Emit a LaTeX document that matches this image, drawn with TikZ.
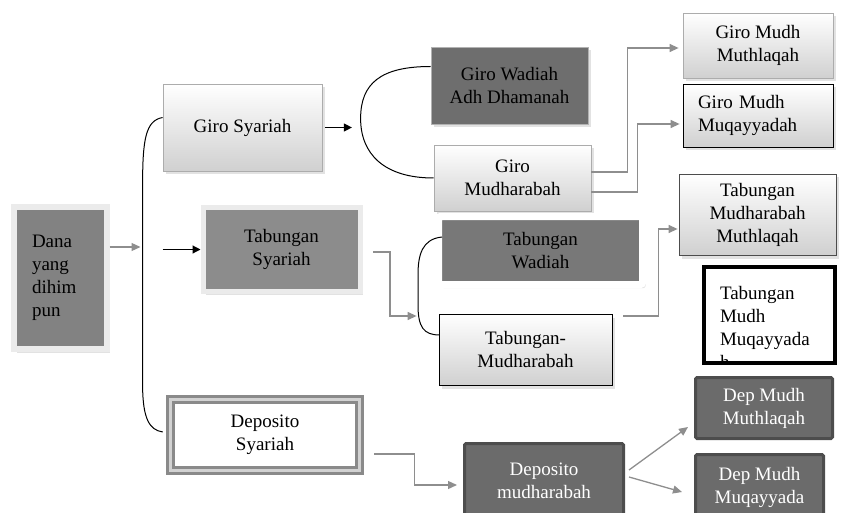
\documentclass[tikz,border=0pt]{standalone}
\usepackage{fontspec}
\setmainfont{Liberation Serif}
\usetikzlibrary{arrows.meta}
\usetikzlibrary{shadows}

\definecolor{framegray}{HTML}{EBEBEB}
\definecolor{danagray}{HTML}{828282}
\definecolor{tabsgray}{HTML}{8C8C8C}
\definecolor{wadgray}{HTML}{6E6E6E}
\definecolor{tabwgray}{HTML}{787878}
\definecolor{depgray}{HTML}{6B6B6B}
\definecolor{depline}{HTML}{4D4D4D}
\definecolor{gradgray}{HTML}{D0D0D0}
\definecolor{linkgray}{HTML}{8E8E8E}
\definecolor{dblgray}{HTML}{8A8A8A}
\definecolor{dblmid}{HTML}{D2D2D2}

\tikzset{
  every node/.style={font=\fontsize{19}{23}\selectfont, inner sep=0pt, align=center},
  boxshadow/.style={drop shadow={shadow xshift=3pt, shadow yshift=-3.5pt, fill=gray!45}},
  lightbox/.style={draw=gray!65, line width=.8pt, top color=white, bottom color=gradgray, boxshadow},
  darkbox/.style={draw=gray!60, line width=.8pt, fill=wadgray, boxshadow},
  framebox/.style={draw=framegray, line width=6pt, boxshadow},
  depbox/.style={draw=depline, line width=3pt, fill=depgray, rounded corners=1.5pt, text=white},
  linkarrow/.style={draw=linkgray, line width=1.3pt, -{Triangle[length=9pt, width=8pt]}},
  blackarrow/.style={line width=1.2pt, -{Triangle[length=8pt, width=8pt]}},
  bracket/.style={line width=1pt}
}

\begin{document}
\begin{tikzpicture}[x=1pt, y=-1pt]
  \useasboundingbox (0,0) rectangle (845,513);
  \clip (0,0) rectangle (845,513);

  \node (dana) [framebox, fill=danagray, minimum width=93pt, minimum height=142pt,
    text width=56pt, align=left] at (60,278) {Dana\\yang\\dihim\\pun};
  \node (giros) [lightbox, minimum width=159pt, minimum height=87pt] at (242.5,127.5) {Giro Syariah};
  \node (tabs) [framebox, line width=5pt, fill=tabsgray, minimum width=157pt, minimum height=84pt]
    at (281.5,249.5) {Tabungan\\Syariah};
  \node (deps) [draw=dblgray, double=dblmid, double distance=2.5pt, line width=3.5pt, fill=white,
    minimum width=189pt, minimum height=71pt] at (265,435) {Deposito\\Syariah};

  \node (girow) [darkbox, minimum width=157pt, minimum height=77pt] at (509.5,85.5) {Giro Wadiah\\Adh Dhamanah};
  \node (girom) [lightbox, minimum width=157pt, minimum height=66pt] at (512.5,178) {Giro\\Mudharabah};
  \node (tabw) [framebox, draw=white, line width=7pt, rounded corners=2pt, fill=tabwgray,
    minimum width=204pt, minimum height=68pt] at (540.5,250.5) {Tabungan\\Wadiah};
  \node (tabm) [lightbox, draw=black, minimum width=173pt, minimum height=71pt] at (525.5,349.5) {Tabungan-\\Mudharabah};
  \node (depm) [depbox, minimum width=159pt, minimum height=75pt] at (544,481) {Deposito\\mudharabah};

  \node (giromm) [lightbox, minimum width=150pt, minimum height=65pt] at (758,45.5) {Giro Mudh\\Muthlaqah};
  \node (giromq) [lightbox, draw=black, minimum width=150pt, minimum height=63pt,
    text width=120pt, align=left] at (758,115.5) {Giro Mudh\\Muqayyadah};
  \node (tabmm) [lightbox, draw=black!70, minimum width=157pt, minimum height=81pt] at (757.5,214.5)
    {Tabungan\\Mudharabah\\Muthlaqah};
  \node (tabmq) [draw=black, line width=4.5pt, fill=white, minimum width=131pt, minimum height=96pt]
    at (769.5,315) {};
  \begin{scope}
    \clip ([shift={(2.3pt,-2.3pt)}]tabmq.north west) rectangle ([shift={(-2.3pt,2.3pt)}]tabmq.south east);
    \node (tabmqt) [text width=99pt, align=left] at (769.5,327) {Tabungan\\Mudh\\Muqayyada\\h};
  \end{scope}
  \node (depmm) [depbox, minimum width=137pt, minimum height=61pt] at (764,408) {Dep Mudh\\Muthlaqah};
  \node (depmq) [depbox, minimum width=128pt, minimum height=66pt] at (759.5,487.5) {Dep Mudh\\Muqayyada};

  \path (node cs:name=dana,anchor=east) +(0,-31) coordinate (danao);
  \path (danao) +(31,0) coordinate (danat);
  \draw[linkarrow] (danao) -- (danat);

  \path (node cs:name=giros,anchor=west) +(0,-10) coordinate (girosi);
  \path (node cs:name=deps,anchor=west) +(-6,-3) coordinate (depsi);
  \draw[bracket] (girosi) .. controls +(-17,3) and +(0,-45) .. ++(-20,67)
    -- ++(0,200) .. controls +(0,35) and +(-13,-2) .. (depsi);

  \path (node cs:name=giros,anchor=east) +(2.5,0) coordinate (giroso);
  \path (giroso) +(27,0) coordinate (girost);
  \draw[blackarrow] (giroso) -- (girost);
  \path (node cs:name=tabs,anchor=west) +(-38,0) coordinate (tabsi);
  \draw[blackarrow] (tabsi) -- (tabs.west);

  \path (node cs:name=girow,anchor=west) +(0,-19) coordinate (girowi);
  \draw[bracket] (girowi) .. controls +(-50,0) and +(0,-35) .. ++(-70,52)
    .. controls +(0,35) and +(-50,0) .. (girom.west);

  \path (node cs:name=girom,anchor=east) +(0,-6) coordinate (giromo);
  \path (node cs:name=girom,anchor=east) +(0,14) coordinate (giromoo);
  \path (node cs:name=giromm,anchor=west) +(-4,2.5) coordinate (girommi);
  \path (node cs:name=giromq,anchor=west) +(-3,8.5) coordinate (giromqi);
  \draw[linkarrow] (giromo) -- +(36,0) |- (girommi);
  \draw[linkarrow] (giromoo) -- +(46,0) |- (giromqi);

  \path (node cs:name=tabw,anchor=west) +(7,-13.5) coordinate (tabwi);
  \path (node cs:name=tabm,anchor=west) +(1,-14.5) coordinate (tabmi);
  \draw[bracket] (tabwi) .. controls +(-20,2) and +(0,-20) .. ++(-24,38)
    -- ++(0,30) .. controls +(0,22) and +(-16,0) .. (tabmi);

  \path (node cs:name=tabs,anchor=east) +(10.5,2.5) coordinate (tabso);
  \path (node cs:name=tabm,anchor=west) +(-22,-33.5) coordinate (tabmt);
  \draw[linkarrow] (tabso) -- +(17,0) |- (tabmt);
  \path (node cs:name=tabm,anchor=east) +(11,-33.5) coordinate (tabmo);
  \path (node cs:name=tabmm,anchor=west) +(-1,14.5) coordinate (tabmmi);
  \draw[linkarrow] (tabmo) -- +(35,0) |- (tabmmi);

  \path (node cs:name=deps,anchor=east) +(13,19) coordinate (depso);
  \path (node cs:name=depm,anchor=west) +(-6,4) coordinate (depmi);
  \draw[linkarrow] (depso) -- +(40,0) |- (depmi);
  \path (node cs:name=depm,anchor=east) +(4,-11) coordinate (depmo);
  \path (node cs:name=depm,anchor=east) +(4,-4) coordinate (depmoo);
  \path (node cs:name=depmm,anchor=west) +(-6,19) coordinate (depmmi);
  \path (node cs:name=depmq,anchor=west) +(-12,4.5) coordinate (depmqi);
  \draw[linkarrow] (depmo) -- (depmmi);
  \draw[linkarrow] (depmoo) -- (depmqi);
\end{tikzpicture}
\end{document}
